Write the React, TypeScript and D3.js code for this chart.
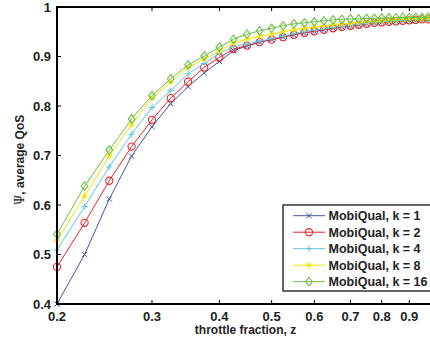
import React from "react";
import * as d3 from "d3";

const xValues = [0.2,0.225,0.25,0.275,0.3,0.325,0.35,0.375,0.4,0.425,0.45,0.475,0.5,0.525,0.55,0.575,0.6,0.625,0.65,0.675,0.7,0.725,0.75,0.775,0.8,0.825,0.85,0.875,0.9,0.925,0.95,0.975,1.0];

const k1 = [0.400,0.500,0.612,0.699,0.758,0.805,0.839,0.867,0.890,0.912,0.921,0.929,0.934,0.939,0.944,0.948,0.951,0.954,0.957,0.960,0.962,0.964,0.966,0.968,0.969,0.970,0.971,0.972,0.973,0.974,0.975,0.975,0.976];
const k2 = [0.475,0.564,0.649,0.718,0.772,0.816,0.849,0.878,0.898,0.915,0.922,0.929,0.934,0.939,0.944,0.948,0.951,0.954,0.957,0.960,0.962,0.964,0.966,0.968,0.969,0.970,0.971,0.972,0.973,0.974,0.975,0.975,0.976];
const k4 = [0.509,0.597,0.677,0.743,0.797,0.831,0.865,0.886,0.906,0.920,0.925,0.931,0.936,0.941,0.946,0.950,0.953,0.956,0.959,0.961,0.963,0.965,0.967,0.969,0.970,0.971,0.972,0.973,0.974,0.975,0.975,0.976,0.976];
const k8 = [0.528,0.618,0.699,0.762,0.816,0.848,0.878,0.895,0.911,0.927,0.935,0.941,0.945,0.950,0.954,0.957,0.960,0.962,0.964,0.966,0.967,0.969,0.970,0.971,0.972,0.973,0.974,0.975,0.975,0.976,0.976,0.977,0.977];
const k16 = [0.541,0.638,0.711,0.774,0.821,0.855,0.883,0.901,0.919,0.935,0.945,0.952,0.957,0.962,0.966,0.968,0.970,0.972,0.974,0.975,0.976,0.976,0.977,0.977,0.978,0.978,0.978,0.979,0.979,0.979,0.979,0.979,0.979];

const seriesLabels = ["MobiQual, k = 1","MobiQual, k = 2","MobiQual, k = 4","MobiQual, k = 8","MobiQual, k = 16"];
const xTicks = [0.2,0.3,0.4,0.5,0.6,0.7,0.8,0.9];
const yTicks = [0.4,0.5,0.6,0.7,0.8,0.9,1];

const series = [
  { label: seriesLabels[0], values: k1, color: "#3f56aa", marker: "x" },
  { label: seriesLabels[1], values: k2, color: "#ea2229", marker: "o" },
  { label: seriesLabels[2], values: k4, color: "#5cc6e0", marker: "+" },
  { label: seriesLabels[3], values: k8, color: "#f2e500", marker: "*" },
  { label: seriesLabels[4], values: k16, color: "#6cbf4a", marker: "d" },
];

const W = 430, H = 339;
const L = 57, R = 434, T = 7, B = 304;
const FONT = "'Liberation Sans', Arial, Helvetica, sans-serif";

function Marker({ type, x, y, color }: { type: string; x: number; y: number; color: string }) {
  const s = 2.6;
  if (type === "x") {
    return <path d={`M${x - s},${y - s}L${x + s},${y + s}M${x - s},${y + s}L${x + s},${y - s}`} stroke={color} strokeWidth={1} fill="none" />;
  }
  if (type === "o") {
    return <circle cx={x} cy={y} r={3.6} stroke={color} strokeWidth={1.1} fill="none" />;
  }
  if (type === "+") {
    const p = 3.2;
    return <path d={`M${x - p},${y}L${x + p},${y}M${x},${y - p}L${x},${y + p}`} stroke={color} strokeWidth={1} fill="none" />;
  }
  if (type === "*") {
    const p = 3.2, q = 2.3;
    return <path d={`M${x - p},${y}L${x + p},${y}M${x},${y - p}L${x},${y + p}M${x - q},${y - q}L${x + q},${y + q}M${x - q},${y + q}L${x + q},${y - q}`} stroke={color} strokeWidth={1} fill="none" />;
  }
  const d = 4.2;
  return <path d={`M${x},${y - d}L${x + d * 0.8},${y}L${x},${y + d}L${x - d * 0.8},${y}Z`} stroke={color} strokeWidth={1.1} fill="none" />;
}

export default function App() {
  const x = d3.scaleLog().domain([0.2, 1]).range([L, R]);
  const y = d3.scaleLinear().domain([0.4, 1]).range([B, T]);
  const line = d3.line<number>().x((_, i) => x(xValues[i])).y((v) => y(v));

  const legX = 283, legY = 205, legH = 86, legW = 160;
  const rowY0 = 215.7, rowStep = 16.5;

  return (
    <svg width={W} height={H} style={{ position: "absolute", left: 0, top: 0, background: "#fff" }} fontFamily={FONT}>
      <rect x={0} y={0} width={W} height={H} fill="#fff" />
      {series.map((s, si) => (
        <g key={si}>
          <path d={line(s.values) || ""} stroke={s.color} strokeWidth={1} fill="none" />
          {s.values.map((v, i) => (
            <Marker key={i} type={s.marker} x={x(xValues[i])} y={y(v)} color={s.color} />
          ))}
        </g>
      ))}
      <path d={`M${L},${T}L${R},${T}L${R},${B}L${L},${B}Z`} stroke="#000" strokeWidth={2} fill="none" />
      {xTicks.map((t) => (
        <g key={t}>
          <line x1={x(t)} x2={x(t)} y1={B} y2={B - 4} stroke="#000" strokeWidth={1} />
          <line x1={x(t)} x2={x(t)} y1={T} y2={T + 4} stroke="#000" strokeWidth={1} />
          <text x={x(t)} y={321} textAnchor="middle" fontSize={13} fontWeight="bold" fill="#222">{t}</text>
        </g>
      ))}
      {yTicks.map((t) => (
        <g key={t}>
          <line x1={L} x2={L + 4} y1={y(t)} y2={y(t)} stroke="#000" strokeWidth={1} />
          <text x={51} y={y(t) + 4.5} textAnchor="end" fontSize={13} fontWeight="bold" fill="#222">{t}</text>
        </g>
      ))}
      <text x={(L + R) / 2} y={334} textAnchor="middle" fontSize={12} fontWeight="bold" fill="#222">throttle fraction, z</text>
      <text transform={`translate(24,160) rotate(-90)`} textAnchor="middle" fontSize={12} fontWeight="bold" fill="#222">
        <tspan fontWeight="normal" fontFamily="'DejaVu Serif', serif">Ψ</tspan>, average QoS
      </text>
      <rect x={legX} y={legY} width={legW} height={legH} fill="#fff" stroke="#000" strokeWidth={1.2} />
      {series.map((s, i) => {
        const ry = rowY0 + i * rowStep;
        return (
          <g key={i}>
            <line x1={293} x2={325} y1={ry} y2={ry} stroke={s.color} strokeWidth={1} />
            <Marker type={s.marker} x={309} y={ry} color={s.color} />
            <text x={328.5} y={ry + 4.6} fontSize={12.5} fontWeight="bold" fill="#222">{s.label}</text>
          </g>
        );
      })}
    </svg>
  );
}
